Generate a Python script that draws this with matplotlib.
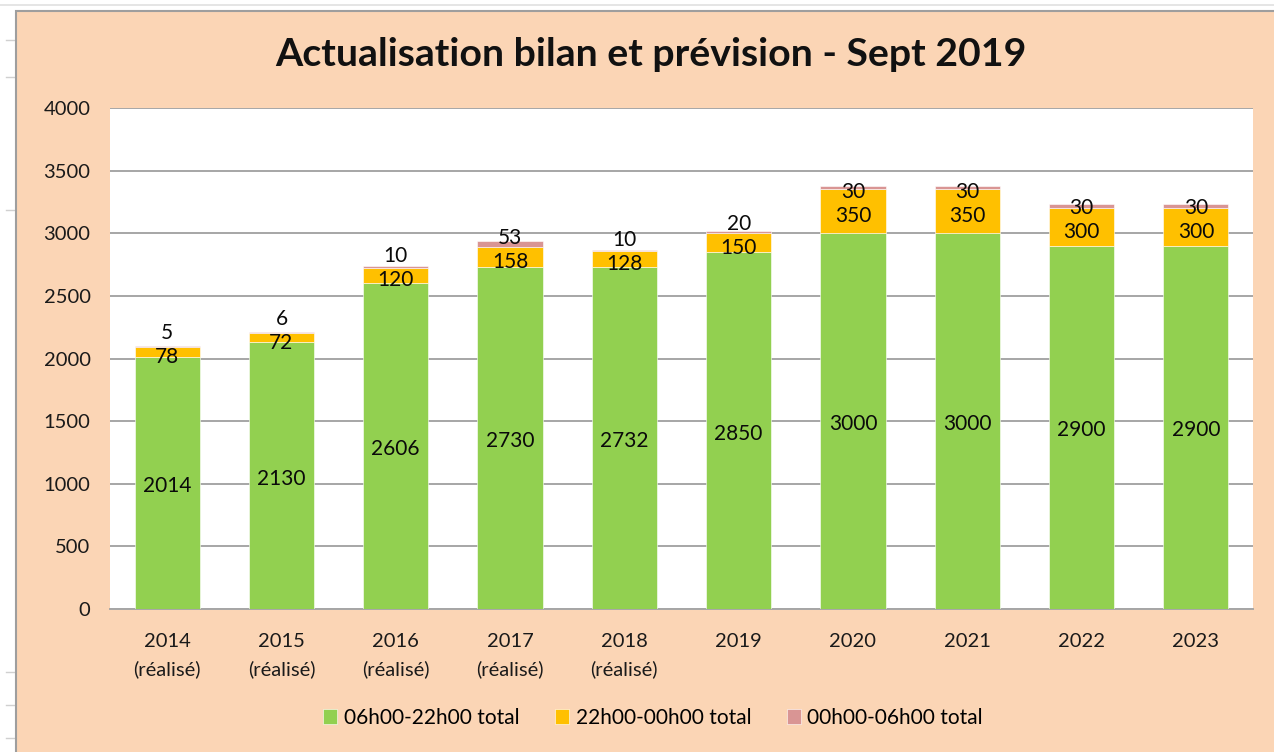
import matplotlib
matplotlib.use("Agg")
import matplotlib.pyplot as plt
from matplotlib.patches import Rectangle
from matplotlib.lines import Line2D
import numpy as np

plt.rcParams['font.family'] = ['Lato', 'DejaVu Sans']

# ---- data ----
categories = ["2014\n(réalisé)", "2015\n(réalisé)", "2016\n(réalisé)", "2017\n(réalisé)",
              "2018\n(réalisé)", "2019", "2020", "2021", "2022", "2023"]
day_vals = [2014, 2130, 2606, 2730, 2732, 2850, 3000, 3000, 2900, 2900]
evening_vals = [78, 72, 120, 158, 128, 150, 350, 350, 300, 300]
night_vals = [5, 6, 10, 53, 10, 20, 30, 30, 30, 30]
series_names = ["06h00-22h00 total", "22h00-00h00 total", "00h00-06h00 total"]
title = "Actualisation bilan et prévision - Sept 2019"
yticks = [0, 500, 1000, 1500, 2000, 2500, 3000, 3500, 4000]

# ---- style ----
GREEN = "#92D050"
YELLOW = "#FFC000"
PINK = "#D99594"
PEACH = "#FBD5B5"
GRID = "#A6A6A6"

W, H = 1274, 752
fig = plt.figure(figsize=(W / 100, H / 100), dpi=100, facecolor="white")

# chart area (peach) with grey frame
fig.patches.append(Rectangle((16 / W, -0.01), 1 - 16 / W + 0.01, 1 - 11 / H + 0.01,
                             transform=fig.transFigure, facecolor=PEACH, edgecolor="#9E9E9E",
                             linewidth=1.5, zorder=-10))
# faint spreadsheet lines outside the chart
fig.lines.append(Line2D([0, 1], [1 - 5 / H, 1 - 5 / H], transform=fig.transFigure,
                        color="#E0E0E0", linewidth=1.2, zorder=-10))
for yy in [40, 77, 210, 672, 705, 738]:
    fig.lines.append(Line2D([6 / W, 15 / W], [1 - yy / H, 1 - yy / H], transform=fig.transFigure,
                            color="#D0D0D0", linewidth=1.0, zorder=-10))

left, right, top, bottom = 110, 1253, 108, 609
ax = fig.add_axes([left / W, 1 - bottom / H, (right - left) / W, (bottom - top) / H], zorder=2)
ax.set_facecolor("white")

x = np.arange(len(categories))
bw = 0.57
day = np.array(day_vals)
eve = np.array(evening_vals)
night = np.array(night_vals)

ax.bar(x, day, bw, color=GREEN, edgecolor="white", linewidth=0.4, zorder=3, label=series_names[0])
ax.bar(x, eve, bw, bottom=day, color=YELLOW, edgecolor="white", linewidth=0.4, zorder=3,
       label=series_names[1])
ax.bar(x, night, bw, bottom=day + eve, color=PINK, edgecolor="white", linewidth=0.4, zorder=3,
       label=series_names[2])

ax.set_xlim(-0.5, len(categories) - 0.5)
ax.set_ylim(0, 4000)
ax.set_yticks(yticks)
ax.set_yticklabels([str(v) for v in yticks])
ax.set_xticks(x)
ax.set_xticklabels(categories, linespacing=1.7)
ax.tick_params(axis="both", length=0, labelsize=14.5, colors="#1a1a1a")
ax.tick_params(axis="y", pad=14)
ax.tick_params(axis="x", pad=17)
ax.grid(axis="y", color=GRID, linewidth=1.4, zorder=1)
for s in ["left", "right", "top"]:
    ax.spines[s].set_visible(False)
ax.spines["bottom"].set_color(GRID)
ax.spines["bottom"].set_linewidth(1.4)

# data labels
lab_kw = dict(ha="center", va="center", fontsize=15, color="#0a0a0a", zorder=5)
for i in range(len(x)):
    ax.annotate(str(day[i]), (x[i], day[i] / 2), xytext=(0, -3),
                textcoords="offset pixels", **lab_kw)
    ax.annotate(str(eve[i]), (x[i], day[i] + eve[i] / 2), xytext=(0, -5),
                textcoords="offset pixels", **lab_kw)
    ax.annotate(str(night[i]), (x[i], day[i] + eve[i] / 2), xytext=(0, 19),
                textcoords="offset pixels", **lab_kw)

fig.text(651 / W, 1 - 55 / H, title, ha="center", va="center", fontsize=28.3,
         fontweight="bold", color="#111111")

leg = fig.legend(loc="center", bbox_to_anchor=(653 / W, 1 - 718 / H), ncol=3, frameon=False,
                 fontsize=15, handlelength=0.7, handleheight=0.7, handletextpad=0.3,
                 columnspacing=1.7)

fig.savefig("out.png", dpi=100, facecolor=fig.get_facecolor())
